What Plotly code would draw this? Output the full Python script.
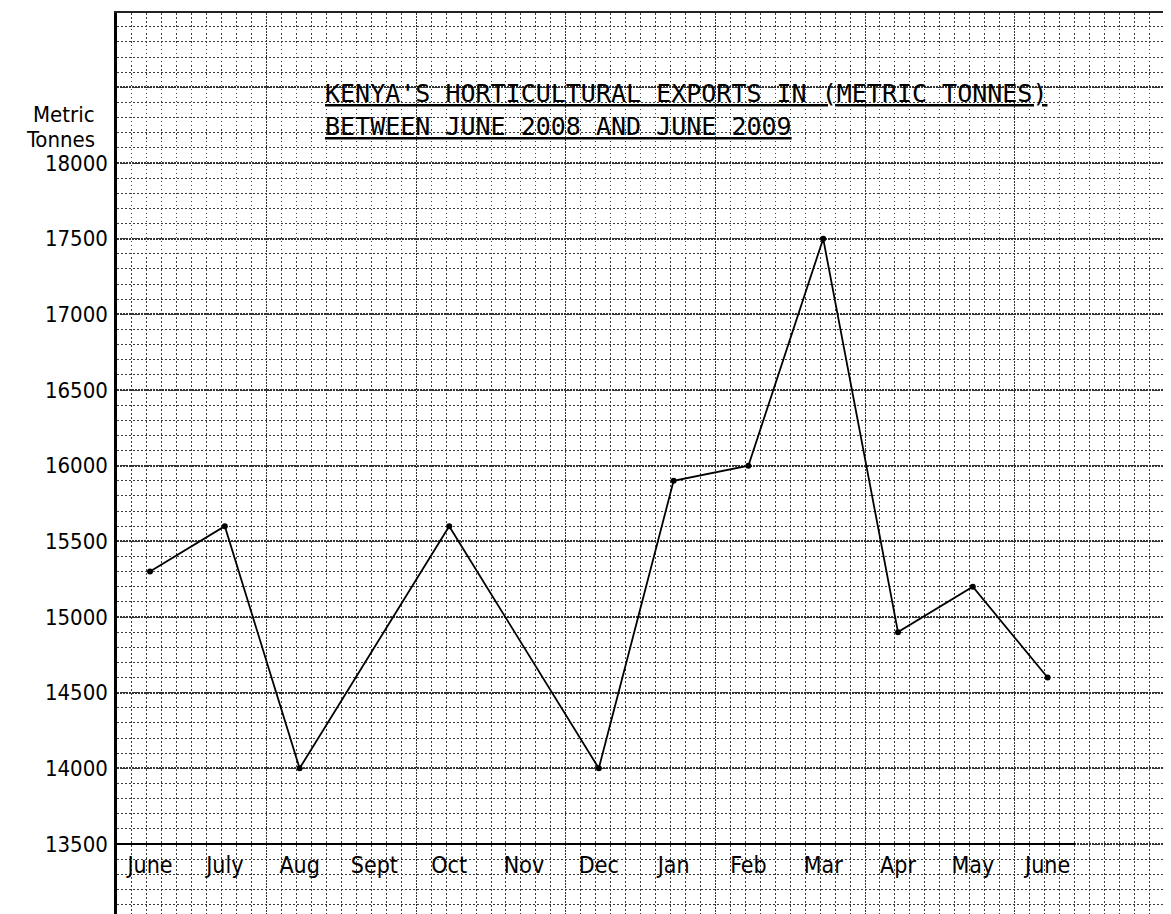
import plotly.graph_objects as go

# ---- data ----
months = ["June", "July", "Aug", "Sept", "Oct", "Nov", "Dec",
          "Jan", "Feb", "Mar", "Apr", "May", "June"]
exports = [15300, 15600, 14000, None, 15600, None, 14000,
           15900, 16000, 17500, 14900, 15200, 14600]
y_ticks = [13500, 14000, 14500, 15000, 15500, 16000, 16500, 17000, 17500, 18000]

title_line1 = "KENYA'S HORTICULTURAL EXPORTS IN (METRIC TONNES)"
title_line2 = "BETWEEN JUNE 2008 AND JUNE 2009"
y_title_1 = "Metric"
y_title_2 = "Tonnes"

# ---- layout geometry (reference pixels; page body has an 8px margin) ----
OFF = 8
W, H = 1171 - OFF, 914 - OFF
ML, MT = 117 - OFF, 13 - OFF
PW, PH = W - ML, H - MT
px_per_month = 74.8
first_px = 150 - OFF
x_lo = -(first_px - ML) / px_per_month
x_hi_full = x_lo + PW / px_per_month
axis_end_px = 1075 - OFF
d = (axis_end_px - ML) / PW
x_hi_axis = x_lo + (axis_end_px - ML) / px_per_month

px_per_unit = 681 / 4500.0
y_axis_px = 844 - OFF
y_lo = y_ticks[0] - (H - y_axis_px) / px_per_unit
y_hi = y_ticks[0] + (y_axis_px - MT) / px_per_unit

label_font = "Liberation Sans Narrow, DejaVu Sans Condensed, Arial Narrow, DejaVu Sans, sans-serif"

grid_major = "#333333"
grid_minor = "#3a3a3a"

# extended gridlines (paper continues above 18000)
grid_vals = list(range(y_ticks[0] - 500, int(y_hi) + 500, 500))
grid_text = [str(v) if v in y_ticks else "" for v in grid_vals]

fig = go.Figure()

# invisible trace to create the paper subplot
fig.add_trace(go.Scatter(x=[x_lo], y=[y_lo], mode="markers",
                         marker=dict(opacity=0), hoverinfo="skip",
                         showlegend=False, xaxis="x", yaxis="y"))

xs = list(range(len(months)))
fig.add_trace(go.Scatter(
    x=xs, y=exports, mode="lines+markers", connectgaps=True,
    line=dict(color="black", width=1.8),
    marker=dict(color="black", size=6),
    showlegend=False, xaxis="x2", yaxis="y"))

fig.update_layout(
    width=W, height=H,
    margin=dict(l=ML, r=0, t=MT, b=0),
    paper_bgcolor="white", plot_bgcolor="rgba(0,0,0,0)",
    xaxis=dict(
        domain=[0, 1], range=[x_lo, x_hi_full], anchor="y", side="top",
        showticklabels=False, ticks="", zeroline=False,
        showline=True, linecolor="#222", linewidth=2,
        tickmode="linear", tick0=x_lo, dtick=2,
        showgrid=True, gridcolor=grid_major, gridwidth=1.3, griddash="2px,1px",
        minor=dict(tick0=x_lo, dtick=0.2, showgrid=True, gridcolor=grid_minor,
                   gridwidth=1, griddash="1.5px,2.5px", ticks=""),
        fixedrange=True,
    ),
    xaxis2=dict(
        domain=[0, d], range=[x_lo, x_hi_axis], anchor="free",
        position=(H - y_axis_px) / PH,
        tickmode="array", tickvals=xs, ticktext=months,
        showgrid=False, zeroline=False, ticks="",
        showline=True, linecolor="black", linewidth=2,
        tickfont=dict(family=label_font, size=23, color="black"),
        fixedrange=True,
    ),
    yaxis=dict(
        domain=[0, 1], range=[y_lo, y_hi], anchor="x",
        tickmode="array", tickvals=grid_vals, ticktext=grid_text,
        tickfont=dict(family=label_font, size=22, color="black"),
        ticks="", ticklabelstandoff=2,
        showline=True, linecolor="black", linewidth=2.5,
        zeroline=False,
        showgrid=True, gridcolor=grid_major, gridwidth=1.5, griddash="2px,1px",
        minor=dict(tick0=y_ticks[0], dtick=100, showgrid=True, gridcolor=grid_minor,
                   gridwidth=1, griddash="1.5px,2.5px", ticks=""),
        fixedrange=True,
    ),
)

def px2paper(px, py):
    return (px - OFF - ML) / PW, (H - (py - OFF)) / PH

for txt, py in [(y_title_1, 115), (y_title_2, 140)]:
    ax, ay = px2paper(97, py)
    fig.add_annotation(text=txt, xref="paper", yref="paper", x=ax, y=ay,
                       xanchor="right", yanchor="middle", showarrow=False,
                       font=dict(family=label_font, size=22, color="black"))

for txt, py in [(title_line1, 93), (title_line2, 126)]:
    tx, ty = px2paper(323, py)
    fig.add_annotation(text=txt, xref="paper", yref="paper", x=tx, y=ty,
                       xanchor="left", yanchor="middle", showarrow=False,
                       font=dict(family="DejaVu Sans Mono, monospace", size=25,
                                 color="black", lineposition="under"))

fig.write_html("out.html")
